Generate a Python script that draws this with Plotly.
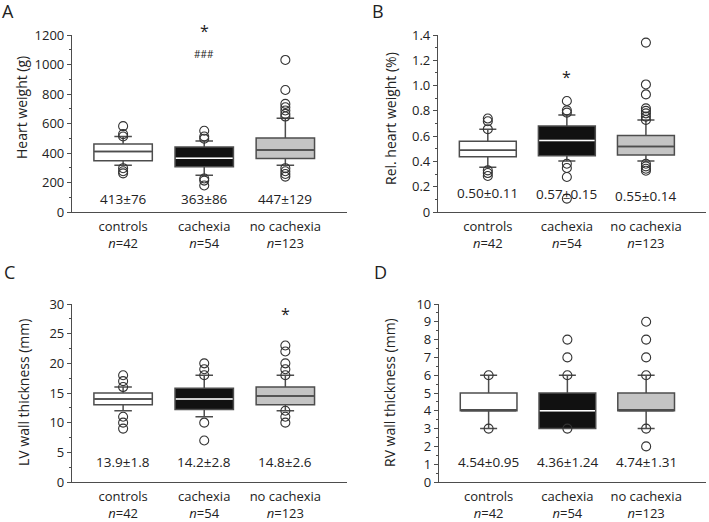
import plotly.graph_objects as go

# ---------------- data ----------------
categories = ["controls", "cachexia", "no cachexia"]
n_values = ["42", "54", "123"]

# Panel A: heart weight (g)
hw_q1 = [348, 306, 362]
hw_median = [411, 364, 420]
hw_q3 = [461, 440, 501]
hw_low = [317, 249, 317]
hw_high = [512, 481, 636]
hw_outliers = [
    [582, 528, 512, 297, 276, 262],
    [551, 512, 497, 227, 213, 180],
    [1031, 827, 733, 710, 688, 665, 647, 297, 276, 258, 240],
]
hw_stats = ["413±76", "363±86", "447±129"]

# Panel B: relative heart weight (%)
rhw_q1 = [0.437, 0.445, 0.450]
rhw_median = [0.489, 0.565, 0.518]
rhw_q3 = [0.560, 0.681, 0.605]
rhw_low = [0.353, 0.403, 0.403]
rhw_high = [0.655, 0.767, 0.728]
rhw_outliers = [
    [0.739, 0.718, 0.655, 0.329, 0.308, 0.285],
    [0.878, 0.804, 0.786, 0.382, 0.348, 0.277, 0.106],
    [1.34, 1.009, 0.93, 0.82, 0.80, 0.78, 0.754, 0.728, 0.382, 0.361, 0.342, 0.326],
]
rhw_stats = ["0.50±0.11", "0.57±0.15", "0.55±0.14"]

# Panel C: LV wall thickness (mm)
lv_q1 = [13, 12.2, 13]
lv_median = [14, 14, 14.5]
lv_q3 = [15, 15.8, 16]
lv_low = [12, 11, 12]
lv_high = [16, 18, 18]
lv_outliers = [
    [18, 17, 16, 11, 10, 9],
    [20, 19, 18, 10, 7],
    [23, 22, 20, 19, 18, 12, 11, 10],
]
lv_stats = ["13.9±1.8", "14.2±2.8", "14.8±2.6"]

# Panel D: RV wall thickness (mm)
rv_q1 = [4, 3, 4]
rv_median = [4, 4, 4]
rv_q3 = [5, 5, 5]
rv_low = [3, 3, 3]
rv_high = [6, 6, 6]
rv_outliers = [
    [6, 3],
    [8, 7, 6, 3],
    [9, 8, 7, 6, 3, 2],
]
rv_stats = ["4.54±0.95", "4.36±1.24", "4.74±1.31"]

# ---------------- style ----------------
FONT = "Open Sans"
TXT = "#222222"
LINE = "#4d4d4d"
fills = ["#ffffff", "#111111", "#c4c4c4"]
median_colors = [LINE, "#ffffff", LINE]
BOX_W = 0.72

W, H = 709, 522


def px_x(p):
    return p / W


def px_y(p):
    return 1 - p / H


panels = [
    dict(name="A", xa="x", ya="y", xdom=(72, 347), ydom=(212, 35),
         q1=hw_q1, med=hw_median, q3=hw_q3, lo=hw_low, hi=hw_high, out=hw_outliers,
         stats=hw_stats, stat_y=[85, 85, 85], yrange=[0, 1200], minor=100,
         ytitle="Heart weight (g)", title_pos=(22, 108), tickvals=list(range(0, 1201, 200)),
         ticktext=[str(v) for v in range(0, 1201, 200)], letter_pos=(8, 11)),
    dict(name="B", xa="x2", ya="y2", xdom=(438, 706), ydom=(212, 35),
         q1=rhw_q1, med=rhw_median, q3=rhw_q3, lo=rhw_low, hi=rhw_high, out=rhw_outliers,
         stats=rhw_stats, stat_y=[0.149, 0.143, 0.127], yrange=[0, 1.4], minor=0.1,
         ytitle="Rel. heart weight (%)", title_pos=(390, 119),
         tickvals=[0, 0.2, 0.4, 0.6, 0.8, 1.0, 1.2, 1.4],
         ticktext=["0", "0.2", "0.4", "0.6", "0.8", "1.0", "1.2", "1.4"], letter_pos=(378, 11)),
    dict(name="C", xa="x3", ya="y3", xdom=(72, 347), ydom=(482, 304),
         q1=lv_q1, med=lv_median, q3=lv_q3, lo=lv_low, hi=lv_high, out=lv_outliers,
         stats=lv_stats, stat_y=[3.4, 3.4, 3.4], yrange=[0, 30], minor=2.5,
         ytitle="LV wall thickness (mm)", title_pos=(23, 393), tickvals=list(range(0, 31, 5)),
         ticktext=[str(v) for v in range(0, 31, 5)], letter_pos=(9, 272)),
    dict(name="D", xa="x4", ya="y4", xdom=(439, 706), ydom=(482, 304),
         q1=rv_q1, med=rv_median, q3=rv_q3, lo=rv_low, hi=rv_high, out=rv_outliers,
         stats=rv_stats, stat_y=[1.1, 1.1, 1.1], yrange=[0, 10], minor=0.5,
         ytitle="RV wall thickness (mm)", title_pos=(389, 393), tickvals=list(range(0, 11)),
         ticktext=[str(v) for v in range(0, 11)], letter_pos=(380, 272)),
]

fig = go.Figure()
annotations = []
layout_axes = {}

for idx, p in enumerate(panels):
    for i in range(3):
        fig.add_trace(go.Box(
            x=[i], q1=[p["q1"][i]], median=[p["med"][i]], q3=[p["q3"][i]],
            lowerfence=[p["lo"][i]], upperfence=[p["hi"][i]],
            fillcolor=fills[i], line=dict(color=LINE, width=1.5),
            whiskerwidth=0.3, width=BOX_W, boxpoints=False,
            xaxis=p["xa"], yaxis=p["ya"], showlegend=False, hoverinfo="skip",
        ))
        fig.add_trace(go.Scatter(
            x=[i - BOX_W / 2 + 0.01, i + BOX_W / 2 - 0.01], y=[p["med"][i]] * 2,
            mode="lines", line=dict(color=median_colors[i], width=1.5),
            xaxis=p["xa"], yaxis=p["ya"], showlegend=False, hoverinfo="skip",
        ))
        fig.add_trace(go.Scatter(
            x=[i] * len(p["out"][i]), y=p["out"][i], mode="markers",
            marker=dict(symbol="circle-open", size=9, color="#333333",
                        line=dict(width=1.1, color="#333333")),
            xaxis=p["xa"], yaxis=p["ya"], showlegend=False, hoverinfo="skip",
            cliponaxis=False,
        ))
        annotations.append(dict(
            x=i, y=p["stat_y"][i], xref=p["xa"], yref=p["ya"], text=p["stats"][i],
            showarrow=False, font=dict(family=FONT, size=13.5, color=TXT),
        ))
    sfx = "" if idx == 0 else str(idx + 1)
    layout_axes["xaxis" + sfx] = dict(
        domain=[px_x(p["xdom"][0]), px_x(p["xdom"][1])], range=[-0.63, 2.76],
        tickvals=[0, 1, 2],
        ticktext=[f"{c}<br><i>n</i>={n}" for c, n in zip(categories, n_values)],
        showline=True, linecolor=LINE, linewidth=1.2, ticks="", ticklabelstandoff=2,
        showgrid=False, zeroline=False, automargin=False,
        anchor=p["ya"], tickfont=dict(family=FONT, size=13, color=TXT), fixedrange=True,
    )
    layout_axes["yaxis" + sfx] = dict(
        domain=[px_y(p["ydom"][0]), px_y(p["ydom"][1])], range=p["yrange"],
        tickvals=p["tickvals"], ticktext=p["ticktext"],
        showline=True, linecolor=LINE, linewidth=1.2, ticks="outside", ticklen=4,
        tickcolor=LINE, showgrid=False, zeroline=False, automargin=False,
        anchor=p["xa"], tickfont=dict(family=FONT, size=13, color=TXT),
        minor=dict(dtick=p["minor"], ticks="outside", ticklen=2, tickcolor=LINE),
        fixedrange=True,
    )
    # y-axis title
    annotations.append(dict(
        x=px_x(p["title_pos"][0]), y=px_y(p["title_pos"][1]), xref="paper", yref="paper",
        xanchor="center", yanchor="middle", textangle=-90,
        text=p["ytitle"], showarrow=False, font=dict(family=FONT, size=14, color=TXT),
    ))
    # panel letter
    annotations.append(dict(
        x=px_x(p["letter_pos"][0]), y=px_y(p["letter_pos"][1]), xref="paper", yref="paper",
        xanchor="center", yanchor="middle",
        text=p["name"], showarrow=False, font=dict(family=FONT, size=18, color=TXT),
    ))

# significance markers (placed relative to the axis domain so they are not hidden)
annotations += [
    dict(x=1, y=1230 / 1200, xref="x", yref="y domain", yanchor="middle", text="*",
         showarrow=False, font=dict(family=FONT, size=16, color=TXT)),
    dict(x=1, y=1070, xref="x", yref="y", text="###", showarrow=False,
         font=dict(family=FONT, size=10, color=TXT)),
    dict(x=1, y=1.066, xref="x2", yref="y2", text="*", showarrow=False,
         font=dict(family=FONT, size=16, color=TXT)),
    dict(x=2, y=28.3, xref="x3", yref="y3", text="*", showarrow=False,
         font=dict(family=FONT, size=16, color=TXT)),
]

fig.update_layout(
    width=W, height=H, margin=dict(l=0, r=0, t=0, b=0),
    paper_bgcolor="white", plot_bgcolor="white",
    template="none", showlegend=False, annotations=annotations,
    font=dict(family=FONT, color=TXT),
    **layout_axes,
)

fig.write_html(
    "out.html",
    config={"displayModeBar": False},
    post_script="document.body.style.margin='0';document.body.style.padding='0';"
                "document.body.style.overflow='hidden';",
)
